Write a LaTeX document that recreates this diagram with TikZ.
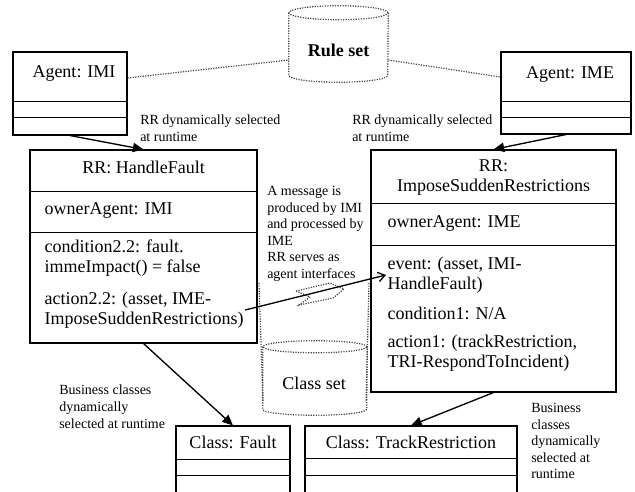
\documentclass[tikz,border=0pt]{standalone}
\usepackage{fontspec}
\setmainfont{Liberation Serif}
\usetikzlibrary{arrows.meta}
\tikzset{
  umlbox/.style={draw, line width=0.8pt, inner sep=0pt},
  boxtext/.style={font=\fontsize{13.5pt}{15pt}\selectfont, inner sep=1pt, align=left},
  annot/.style={font=\fontsize{10.5pt}{12.4pt}\selectfont, inner sep=0pt, align=left, anchor=north west},
  setarea/.style={draw=none, inner sep=0pt},
  selarrow/.style={line width=1pt, -{Triangle[length=8pt,width=7pt]}},
  msgarrow/.style={line width=1pt, -{Straight Barb[length=5pt,width=7pt]}},
  link/.style={densely dotted, line width=0.9pt, draw=black!75},
}
\begin{document}
\begin{tikzpicture}[x=0.75pt,y=-0.75pt]
\useasboundingbox (0,0) rectangle (635,492);
\clip (0,0) rectangle (635,492);
% rule set and class set
\node[setarea, minimum width=74.25pt, minimum height=46.5pt] (rules) at (338.5,44) {};
\draw[link] (rules.north) ellipse [x radius=37.125pt, y radius=5.25pt];
\draw[link] (rules.north west) -- (rules.south west) arc [start angle=180, end angle=360, x radius=37.125pt, y radius=5.25pt] -- (rules.north east);
\node[boxtext] (rulestext) at (338.5,50) {\textbf{Rule set}};
\draw[link] (259,283) -- (263,402);
\draw[link] (369,283) -- (366,402);
\node[setarea, minimum width=78pt, minimum height=46.5pt] (classes) at (315,378) {};
\draw[link] (classes.north) ellipse [x radius=39pt, y radius=4.5pt];
\draw[link] (classes.north west) -- (classes.south west) arc [start angle=180, end angle=360, x radius=39pt, y radius=4.5pt] -- (classes.north east);
\node[boxtext] (classestext) at (314,383) {Class set};
% agents
\node[umlbox, minimum width=85.5pt, minimum height=62.25pt] (imi) at (70,93.5) {};
\node[boxtext] (imititle) at (74,74) {Agent: IMI};
\draw (imi.west |- 0,101) -- (imi.east |- 0,101);
\draw (imi.west |- 0,117) -- (imi.east |- 0,117);
\node[umlbox, minimum width=97.5pt, minimum height=61.5pt] (ime) at (566,93) {};
\node[boxtext] (imetitle) at (570,75) {Agent: IME};
\draw (ime.west |- 0,101) -- (ime.east |- 0,101);
\draw (ime.west |- 0,117) -- (ime.east |- 0,117);
% RR HandleFault
\node[umlbox, minimum width=170.25pt, minimum height=144.75pt] (hf) at (143.5,246.5) {};
\node[boxtext] (hftitle) at (143.5,167) {RR: HandleFault};
\draw (hf.west |- 0,191) -- (hf.east |- 0,191);
\draw (hf.west |- 0,232) -- (hf.east |- 0,232);
\node[boxtext, anchor=west] (hfowner) at (43,210) {ownerAgent: IMI};
\node[boxtext, anchor=west] (hfcond) at (43,258) {condition2.2: fault.\\immeImpact() = false};
\node[boxtext, anchor=west] (hfact) at (43,310) {action2.2: (asset, IME-\\ImposeSuddenRestrictions)};
% RR ImposeSuddenRestrictions
\node[umlbox, minimum width=183.75pt, minimum height=181.5pt] (imp) at (493.5,271) {};
\node[boxtext, align=center] (imptitle) at (493.5,178) {RR:\\ImposeSuddenRestrictions};
\draw (imp.west |- 0,203) -- (imp.east |- 0,203);
\draw (imp.west |- 0,245) -- (imp.east |- 0,245);
\node[boxtext, anchor=west] (impowner) at (386,223) {ownerAgent: IME};
\node[boxtext, anchor=west] (impev) at (386,275) {event: (asset, IMI-\\HandleFault)};
\node[boxtext, anchor=west] (impcond) at (386,313) {condition1: N/A};
\node[boxtext, anchor=west] (impact) at (386,353) {action1: (trackRestriction,\\TRI-RespondToIncident)};
% business classes
\node[umlbox, minimum width=85.5pt, minimum height=55.5pt] (fault) at (233,463) {};
\node[boxtext] (faulttitle) at (233,442) {Class: Fault};
\draw (fault.west |- 0,459) -- (fault.east |- 0,459);
\draw (fault.west |- 0,475) -- (fault.east |- 0,475);
\node[umlbox, minimum width=159pt, minimum height=55.5pt] (track) at (411,463) {};
\node[boxtext] (tracktitle) at (411,442) {Class: TrackRestriction};
\draw (track.west |- 0,458) -- (track.east |- 0,458);
\draw (track.west |- 0,475) -- (track.east |- 0,475);
% notes
\node[annot] (selleft) at (140,115) {RR dynamically selected\\at runtime};
\node[annot] (selright) at (352,115) {RR dynamically selected\\at runtime};
\node[annot] (msgnote) at (267,186) {A message is\\produced by IMI\\and processed by\\IME\\RR serves as\\agent interfaces};
\node[annot] (busleft) at (59,385) {Business classes\\dynamically\\selected at runtime};
\node[annot] (busright) at (531,403) {Business\\classes\\dynamically\\selected at\\runtime};
% links
\draw[link] (imi.east |- 0,78) -- (rules.west |- 0,60);
\draw[link] (rules.east |- 0,60) -- (ime.west |- 0,77);
\draw[selarrow] (imi.south) -- (hf.north);
\draw[selarrow] (ime.south) -- (imp.north);
\draw[selarrow] (hf.south) -- (fault.north);
\draw[selarrow] (imp.south) -- (track.north);
\draw[link] (296,291) -- (330,283) -- (344,289) -- (333,298) -- (299,305) -- (310,297) -- cycle;
\draw[msgarrow] (hfact.east) -- (impev.west);
\end{tikzpicture}
\end{document}
